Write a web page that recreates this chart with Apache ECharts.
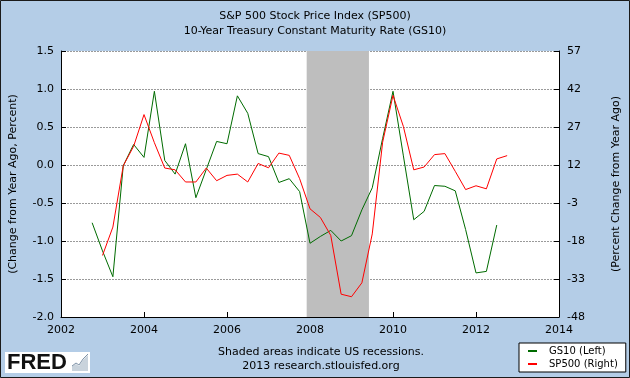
<!DOCTYPE html>
<html><head><meta charset="utf-8">
<script src="https://cdn.jsdelivr.net/npm/echarts@6/dist/echarts.min.js"></script>
<style>html,body{margin:0;padding:0;background:#b4cde7}#c{width:630px;height:378px}</style>
</head><body><div id="c"></div>
<script>
// ---- data ----
const gs10Dates = [2002.75, 2003, 2003.25, 2003.5, 2003.75, 2004, 2004.25, 2004.5, 2004.75, 2005, 2005.25, 2005.5, 2005.75, 2006, 2006.25, 2006.5, 2006.75, 2007, 2007.25, 2007.5, 2007.75, 2008, 2008.25, 2008.5, 2008.75, 2009, 2009.25, 2009.5, 2009.75, 2010, 2010.25, 2010.5, 2010.75, 2011, 2011.25, 2011.5, 2011.75, 2012, 2012.25, 2012.5];
const gs10Values = [-0.76, -1.13, -1.47, -0.01, 0.27, 0.10, 0.97, 0.06, -0.12, 0.28, -0.43, -0.06, 0.31, 0.28, 0.91, 0.68, 0.15, 0.11, -0.23, -0.18, -0.35, -1.03, -0.94, -0.86, -1.00, -0.93, -0.59, -0.30, 0.35, 0.97, 0.12, -0.72, -0.61, -0.27, -0.28, -0.34, -0.85, -1.42, -1.40, -0.79];
const sp500Dates = [2003, 2003.25, 2003.5, 2003.75, 2004, 2004.25, 2004.5, 2004.75, 2005, 2005.25, 2005.5, 2005.75, 2006, 2006.25, 2006.5, 2006.75, 2007, 2007.25, 2007.5, 2007.75, 2008, 2008.25, 2008.5, 2008.75, 2009, 2009.25, 2009.5, 2009.75, 2010, 2010.25, 2010.5, 2010.75, 2011, 2011.25, 2011.5, 2011.75, 2012, 2012.25, 2012.5, 2012.75];
const sp500Values = [-23.7, -12.5, 11.7, 19.4, 31.9, 20.8, 10.8, 10.1, 5.3, 5.3, 10.8, 5.8, 7.9, 8.4, 5.3, 12.6, 10.9, 16.7, 15.8, 6.6, -5.3, -8.7, -15.8, -39.0, -40.0, -34.5, -15.2, 21.0, 39.5, 27.2, 10.1, 11.2, 16.1, 16.5, 9.5, 2.3, 3.8, 2.6, 14.4, 15.7];
const recessionStart = [2007.92];
const recessionEnd = [2009.42];
const xTickLabels = [2002, 2004, 2006, 2008, 2010, 2012, 2014];
const leftTickLabels = [-2.0, -1.5, -1.0, -0.5, 0.0, 0.5, 1.0, 1.5];
const rightTickLabels = [-48, -33, -18, -3, 12, 27, 42, 57];
const seriesNames = ['GS10 (Left)', 'SP500 (Right)'];
const titleLines = ['S&P 500 Stock Price Index (SP500)', '10-Year Treasury Constant Maturity Rate (GS10)'];

// ---- chart ----
const FONT = 'DejaVu Sans';
const chart = echarts.init(document.getElementById('c'), null, {renderer: 'canvas'});
const gsData = gs10Dates.map((d, i) => [d, gs10Values[i]]);
const spData = sp500Dates.map((d, i) => [d, sp500Values[i]]);
const recAreas = recessionStart.map((s, i) => [{xAxis: s}, {xAxis: recessionEnd[i]}]);

chart.setOption({
  animation: false,
  backgroundColor: '#b4cde7',
  textStyle: {fontFamily: FONT},
  title: {
    text: titleLines.join('\n'),
    left: 'center', top: 4,
    textStyle: {fontFamily: FONT, fontSize: 11, fontWeight: 'normal', color: '#000', lineHeight: 15}
  },
  grid: {left: 61, right: 68, top: 51, bottom: 61, containLabel: false, show: true, backgroundColor: '#fff', borderWidth: 0},
  legend: {
    data: seriesNames,
    orient: 'vertical',
    left: 519, top: 343,
    backgroundColor: '#fff',
    borderColor: '#000', borderWidth: 1, borderRadius: 0,
    padding: [2, 8, 2, 9],
    itemGap: 1,
    itemWidth: 9, itemHeight: 2,
    icon: 'rect',
    textStyle: {fontFamily: FONT, fontSize: 10, color: '#000', lineHeight: 12, padding: [0, 0, 0, 7]}
  },
  xAxis: {
    type: 'value', min: xTickLabels[0], max: xTickLabels[xTickLabels.length - 1], interval: 2,
    axisLine: {show: true, onZero: false, lineStyle: {color: '#000', width: 1}},
    axisTick: {show: true, inside: true, length: 5, lineStyle: {color: '#000'}},
    axisLabel: {color: '#000', fontSize: 11, fontFamily: FONT, margin: 8, formatter: v => String(v)},
    splitLine: {show: false}
  },
  yAxis: [
    {
      type: 'value', min: leftTickLabels[0], max: leftTickLabels[leftTickLabels.length - 1], interval: 0.5,
      name: '(Change from Year Ago, Percent)', nameLocation: 'middle', nameGap: 42, nameRotate: 90,
      nameTextStyle: {color: '#000', fontSize: 11, fontFamily: FONT},
      axisLine: {show: true, onZero: false, lineStyle: {color: '#000', width: 1}},
      axisTick: {show: true, inside: true, length: 5, lineStyle: {color: '#000'}},
      axisLabel: {color: '#000', fontSize: 11, fontFamily: FONT, margin: 7, formatter: v => v.toFixed(1)},
      splitLine: {show: true, lineStyle: {color: '#9a9a9a', width: 1, type: [2, 1]}}
    },
    {
      type: 'value', min: rightTickLabels[0], max: rightTickLabels[rightTickLabels.length - 1],
      position: 'right',
      name: '(Percent Change from Year Ago)', nameLocation: 'middle', nameGap: 52, nameRotate: 90,
      nameTextStyle: {color: '#000', fontSize: 11, fontFamily: FONT},
      axisLine: {show: true, onZero: false, lineStyle: {color: '#000', width: 1}},
      axisTick: {show: true, inside: true, length: 5, lineStyle: {color: '#000'}, customValues: rightTickLabels},
      axisLabel: {color: '#000', fontSize: 11, fontFamily: FONT, margin: 8, customValues: rightTickLabels},
      splitLine: {show: false}
    }
  ],
  series: [
    {
      name: 'recession', type: 'line', data: [], z: 1, silent: true,
      markArea: {silent: true, itemStyle: {color: '#bebebe', opacity: 1}, data: recAreas}
    },
    {
      name: seriesNames[0], type: 'line', yAxisIndex: 0, data: gsData, z: 3,
      showSymbol: false, symbol: 'none', color: '#006b00',
      lineStyle: {color: '#006b00', width: 1}
    },
    {
      name: seriesNames[1], type: 'line', yAxisIndex: 1, data: spData, z: 4,
      showSymbol: false, symbol: 'none', color: '#ff0000',
      lineStyle: {color: '#ff0000', width: 1}
    }
  ],
  graphic: [
    {type: 'rect', silent: true, z: 100, shape: {x: 0.5, y: 0.5, width: 629, height: 377}, style: {fill: 'none', stroke: '#1a1a1a', lineWidth: 1}},
    {type: 'text', x: 321, y: 352, style: {text: 'Shaded areas indicate US recessions.', font: '11px "DejaVu Sans"', fill: '#000', textAlign: 'center', textVerticalAlign: 'middle'}},
    {type: 'text', x: 321, y: 366, style: {text: '2013 research.stlouisfed.org', font: '11px "DejaVu Sans"', fill: '#000', textAlign: 'center', textVerticalAlign: 'middle'}},
    {type: 'rect', shape: {x: 5, y: 352, width: 85, height: 21}, style: {fill: '#fff'}},
    {type: 'text', x: 7, y: 363, style: {text: 'FRED', font: 'bold 22px "Liberation Sans"', fill: '#111', textVerticalAlign: 'middle'}},
    {type: 'polygon', shape: {points: [[72, 371], [72, 366], [76, 364], [79, 366], [83, 360], [86, 357], [88, 355], [88, 371]]}, style: {fill: '#c9d3dc'}},
    {type: 'polyline', shape: {points: [[72, 366], [76, 363], [79, 365], [83, 359], [86, 356], [88, 354]]}, style: {stroke: '#7f93a8', lineWidth: 1, fill: 'none'}}
  ]
});
</script>
</body></html>
